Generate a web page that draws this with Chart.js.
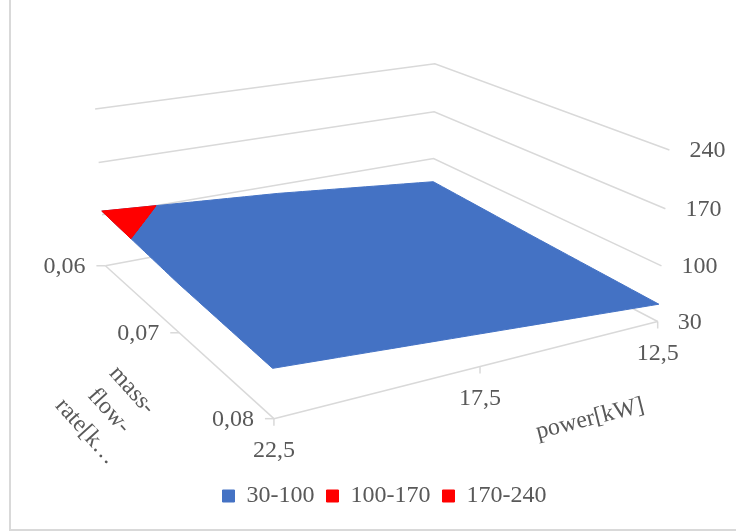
<!DOCTYPE html>
<html>
<head>
<meta charset="utf-8">
<script src="https://cdn.jsdelivr.net/npm/chart.js@4.4.1/dist/chart.umd.min.js"></script>
<style>
  html, body { margin: 0; padding: 0; background: #fff; }
  #wrap { position: relative; width: 736px; height: 532px; overflow: hidden; }
  #frame { position: absolute; left: 9px; top: -4px; width: 800px; height: 535px; border: 2px solid #d9d9d9; box-sizing: border-box; }
  #chart { position: absolute; left: 0; top: 0; }
</style>
</head>
<body>
<div id="wrap">
  <div id="frame"></div>
  <canvas id="chart" width="736" height="532"></canvas>
</div>
<script>
// categories
const powerLabels = ['22,5', '17,5', '12,5'];
const massLabels = ['0,06', '0,07', '0,08'];
const zTicks = [30, 100, 170, 240];

// surface values, one row per mass-flow rate, columns follow powerLabels
const row006 = [105, 88, 65];
const row007 = [93, 76, 58];
const row008 = [86, 69, 52];

const bandNames = ['30-100', '100-170', '170-240'];
const bandColors = ['#4472C4', '#FF0000', '#FF0000'];

const grid = [row006, row007, row008];

// 3d view: rotation, perspective and size of the plot box
const view = {
  yaw: 0.5146, pitch: 0.3294, roll: 0.0023, dist: 6.973,
  scale: 206.74, cx: 368.1, cy: 211.4, depth: 0.9945, height: 0.8386
};

// u = power index, v = mass-flow index, z = value
function project(u, v, z) {
  const X = u - 1, Zw = (v - 1) * view.depth;
  const Y = ((z - zTicks[0]) / (zTicks[zTicks.length - 1] - zTicks[0]) - 0.5) * view.height;
  const x1 = X * Math.cos(view.yaw) + Zw * Math.sin(view.yaw);
  const z1 = -X * Math.sin(view.yaw) + Zw * Math.cos(view.yaw);
  const y2 = Y * Math.cos(view.pitch) - z1 * Math.sin(view.pitch);
  const z2 = Y * Math.sin(view.pitch) + z1 * Math.cos(view.pitch);
  const f = view.dist / (view.dist - z2);
  const a = x1 * f, b = y2 * f;
  const sx = a * Math.cos(view.roll) - b * Math.sin(view.roll);
  const sy = a * Math.sin(view.roll) + b * Math.cos(view.roll);
  return { x: view.cx + view.scale * sx, y: view.cy - view.scale * sy };
}

function valueAt(u, v) {
  const i = Math.min(Math.floor(u), 1), j = Math.min(Math.floor(v), 1);
  const fu = u - i, fv = v - j;
  return grid[j][i] * (1 - fu) * (1 - fv) + grid[j][i + 1] * fu * (1 - fv) +
    grid[j + 1][i] * (1 - fu) * fv + grid[j + 1][i + 1] * fu * fv;
}

function outline() {
  const pts = [], n = 40;
  for (let k = 0; k < n; k++) pts.push([2 * k / n, 0]);
  for (let k = 0; k < n; k++) pts.push([2, 2 * k / n]);
  for (let k = 0; k < n; k++) pts.push([2 - 2 * k / n, 2]);
  for (let k = 0; k <= n; k++) pts.push([0, 2 - 2 * k / n]);
  return pts;
}

// part of the surface at or above a level, traced by rays from the highest grid point
function regionAbove(level) {
  let top = null;
  grid.forEach((row, j) => row.forEach((z, i) => { if (!top || z > top.z) top = { u: i, v: j, z }; }));
  if (top.z < level) return [];
  const pts = [];
  const onEdge = top.u === 0 || top.u === 2 || top.v === 0 || top.v === 2;
  if (onEdge) pts.push([top.u, top.v]);
  for (let k = 0; k < 360; k++) {
    const a = k * Math.PI / 180, dx = Math.cos(a), dy = Math.sin(a);
    let tmax = Infinity;
    if (dx > 1e-12) tmax = Math.min(tmax, (2 - top.u) / dx); else if (dx < -1e-12) tmax = Math.min(tmax, -top.u / dx);
    if (dy > 1e-12) tmax = Math.min(tmax, (2 - top.v) / dy); else if (dy < -1e-12) tmax = Math.min(tmax, -top.v / dy);
    if (tmax < 1e-6) continue;
    const at = t => valueAt(top.u + dx * t, top.v + dy * t);
    let t = 0;
    const step = 0.005;
    while (t + step <= tmax && at(t + step) >= level) t += step;
    let hi = Math.min(t + step, tmax);
    if (at(hi) >= level) t = hi;
    else for (let n = 0; n < 30; n++) { const m = (t + hi) / 2; if (at(m) >= level) t = m; else hi = m; }
    pts.push([top.u + dx * t, top.v + dy * t]);
  }
  if (onEdge) pts.push([top.u, top.v]);
  return pts;
}

const datasets = bandNames.map((name, b) => {
  const pts = b === 0 ? outline() : regionAbove(zTicks[b]);
  return {
    label: name,
    data: pts.map(([u, v]) => project(u, v, valueAt(u, v))),
    showLine: true,
    fill: 'shape',
    backgroundColor: bandColors[b],
    borderColor: bandColors[b],
    borderWidth: 1,
    pointRadius: 0,
    tension: 0,
    order: 3 - b
  };
});

const lineStyle = { showLine: true, fill: false, borderColor: '#d9d9d9', borderWidth: 1.5, pointRadius: 0, order: 10 };
zTicks.forEach(t => datasets.push({ ...lineStyle, label: 'wall ' + t, data: [project(0, 0, t), project(2, 0, t), project(2, 2, t)] }));
datasets.push({ ...lineStyle, label: 'mass axis', data: [project(0, 0, 30), project(0, 2, 30)] });
datasets.push({ ...lineStyle, label: 'power axis', data: [project(0, 2, 30), project(2, 2, 30)] });
massLabels.forEach((m, v) => {
  const p = project(0, v, 30);
  datasets.push({ ...lineStyle, label: 'tick ' + m, data: [p, { x: p.x - 9, y: p.y }] });
});
powerLabels.forEach((w, u) => {
  const p = project(u, 2, 30);
  datasets.push({ ...lineStyle, label: 'tick ' + w, data: [p, { x: p.x, y: p.y + 7 }] });
});

const textColor = '#595959';
const serif = 'Liberation Serif';
Chart.defaults.font.family = serif;
Chart.defaults.font.size = 24;
Chart.defaults.color = textColor;

const axisText = {
  id: 'axisText',
  afterDraw(chart) {
    const { ctx } = chart;
    const xs = chart.scales.x, ys = chart.scales.y;
    const at = (u, v, z) => { const q = project(u, v, z); return [xs.getPixelForValue(q.x), ys.getPixelForValue(q.y)]; };
    ctx.save();
    ctx.font = '24px "' + serif + '"';
    ctx.fillStyle = textColor;
    ctx.textBaseline = 'middle';

    ctx.textAlign = 'left';
    zTicks.forEach(t => { const [px, py] = at(2, 2, t); ctx.fillText(String(t), px + 20, py + 1); });

    ctx.textAlign = 'right';
    massLabels.forEach((m, v) => { const [px, py] = at(0, v, 30); ctx.fillText(m, px - 20, py + 1); });

    ctx.textAlign = 'center';
    powerLabels.forEach((w, u) => { const [px, py] = at(u, 2, 30); ctx.fillText(w, px, py + 32); });

    // axis titles
    const [p0x, p0y] = at(0, 2, 30), [p2x, p2y] = at(2, 2, 30);
    ctx.save();
    ctx.translate(590, 419);
    ctx.rotate(Math.atan2(p2y - p0y, p2x - p0x));
    ctx.fillText('power[kW]', 0, 0);
    ctx.restore();

    ctx.save();
    ctx.translate(109, 411);
    ctx.rotate(48 * Math.PI / 180);
    ['mass-', 'flow-', 'rate[k…'].forEach((s, i) => ctx.fillText(s, 0, (i - 1) * 31));
    ctx.restore();

    ctx.restore();
  }
};

const chart = new Chart(document.getElementById('chart'), {
  type: 'scatter',
  data: { datasets },
  options: {
    responsive: false,
    animation: false,
    events: [],
    layout: { padding: { left: 33, bottom: 14 } },
    scales: {
      x: { type: 'linear', display: false },
      y: { type: 'linear', display: false, reverse: true }
    },
    plugins: {
      tooltip: { enabled: false },
      legend: {
        position: 'bottom',
        labels: {
          filter: item => item.datasetIndex < 3,
          sort: (a, b) => a.datasetIndex - b.datasetIndex,
          boxWidth: 12,
          boxHeight: 12,
          padding: 12,
          color: textColor,
          font: { family: serif, size: 24 }
        }
      }
    }
  },
  plugins: [axisText]
});

// one view unit = one pixel of the page
const area = chart.chartArea;
chart.options.scales.x.min = area.left;
chart.options.scales.x.max = area.right;
chart.options.scales.y.min = area.top;
chart.options.scales.y.max = area.bottom;
chart.update('none');
</script>
</body>
</html>
